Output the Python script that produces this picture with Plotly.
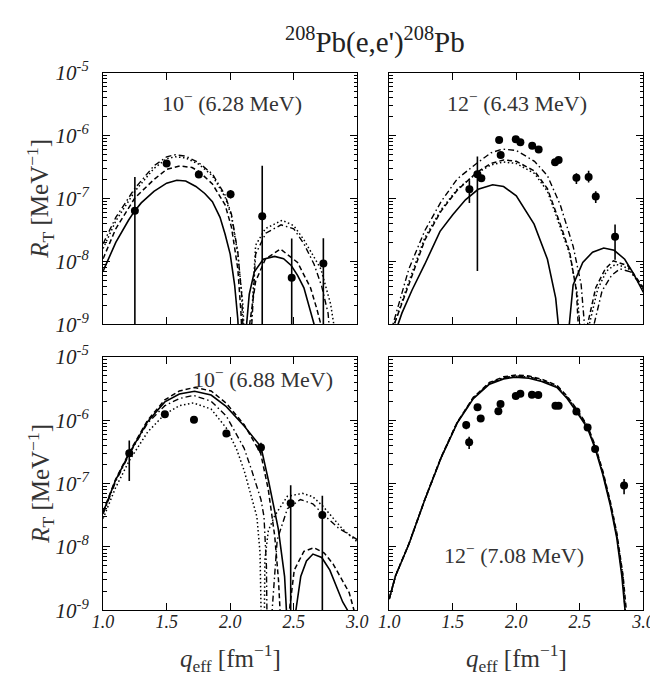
import plotly.graph_objects as go

# ---------------- data ----------------
# Panel 1: 10- (6.28 MeV)
p1_exp_q = [1.25, 1.50, 1.753, 2.003, 2.252, 2.484, 2.733]
p1_exp_r = [6.4e-8, 3.6e-7, 2.4e-7, 1.17e-7, 5.2e-8, 5.5e-9, 9.2e-9]
p1_exp_up = [1.55e-7, 2.0e-8, 1.5e-8, 1.9e-8, 2.8e-7, 1.75e-8, 1.4e-8]
p1_exp_dn = [6.4e-8, 2.0e-8, 1.5e-8, 1.7e-8, 5.2e-8, 5.5e-9, 9.2e-9]

p1_solid_q = [1.00, 1.10, 1.20, 1.25, 1.30, 1.40, 1.50, 1.58, 1.65, 1.73, 1.80, 1.86, 1.92, 1.96, 2.00, 2.035, 2.06, 2.08, 2.095,
              2.11, 2.125, 2.15, 2.19, 2.26, 2.35, 2.42, 2.48, 2.53, 2.58, 2.62, 2.66, 2.70]
p1_solid_r = [7.0e-9, 2.0e-8, 4.5e-8, 6.4e-8, 8.5e-8, 1.3e-7, 1.75e-7, 1.95e-7, 1.9e-7, 1.55e-7, 1.2e-7, 8.9e-8, 5.0e-8, 2.7e-8, 1.3e-8, 4.2e-9, 1.2e-9, 2e-10, 1e-11,
              1e-11, 8e-10, 3.0e-9, 6.8e-9, 1.08e-8, 1.2e-8, 1.1e-8, 8.6e-9, 6.0e-9, 3.8e-9, 2.0e-9, 1.0e-9, 4e-10]
p1_dash_q = [1.00, 1.10, 1.25, 1.40, 1.50, 1.606, 1.70, 1.753, 1.86, 1.96, 2.01, 2.06, 2.085, 2.10,
             2.13, 2.153, 2.20, 2.276, 2.395, 2.53, 2.632, 2.68, 2.713, 2.74]
p1_dash_r = [1.1e-8, 3.3e-8, 1.02e-7, 2.0e-7, 2.9e-7, 3.3e-7, 3.1e-7, 2.7e-7, 1.7e-7, 7.9e-8, 3.5e-8, 7.6e-9, 1.5e-9, 1e-11,
             1e-11, 1.0e-9, 4.8e-9, 1.08e-8, 1.57e-8, 9.6e-9, 3.8e-9, 1.8e-9, 1.0e-9, 3e-10]
p1_dashdot_q = [1.00, 1.10, 1.25, 1.40, 1.50, 1.568, 1.65, 1.753, 1.86, 1.96, 2.01, 2.06, 2.09, 2.11,
                2.14, 2.17, 2.20, 2.28, 2.40, 2.50, 2.58, 2.66, 2.72, 2.77, 2.80]
p1_dashdot_r = [1.9e-8, 5.0e-8, 1.45e-7, 3.3e-7, 4.6e-7, 4.95e-7, 4.7e-7, 3.7e-7, 2.45e-7, 1.13e-7, 5.6e-8, 1.4e-8, 3e-9, 1e-11,
                1e-11, 1.0e-9, 1.3e-8, 2.8e-8, 3.8e-8, 3.3e-8, 1.9e-8, 9e-9, 4e-9, 1.5e-9, 3e-10]
p1_dot_q = [1.00, 1.10, 1.25, 1.40, 1.50, 1.57, 1.65, 1.753, 1.86, 1.96, 2.01, 2.06, 2.10, 2.12,
            2.15, 2.166, 2.20, 2.276, 2.408, 2.50, 2.58, 2.713, 2.79, 2.815, 2.83]
p1_dot_r = [1.6e-8, 4.4e-8, 1.3e-7, 3.0e-7, 4.3e-7, 4.6e-7, 4.4e-7, 3.5e-7, 2.3e-7, 1.05e-7, 5.2e-8, 1.3e-8, 2e-9, 1e-11,
            1e-11, 1.0e-9, 1.8e-8, 3.3e-8, 4.5e-8, 3.7e-8, 2.2e-8, 7.6e-9, 2.1e-9, 1.0e-9, 3e-10]

# Panel 2: 12- (6.43 MeV)
p2_exp_q = [1.631, 1.694, 1.725, 1.865, 1.877, 1.996, 2.032, 2.125, 2.176, 2.305, 2.333, 2.473, 2.569, 2.625, 2.777]
p2_exp_r = [1.4e-7, 2.43e-7, 2.09e-7, 8.5e-7, 4.9e-7, 8.7e-7, 7.8e-7, 6.9e-7, 6.0e-7, 3.75e-7, 4.1e-7, 2.13e-7, 2.19e-7, 1.07e-7, 2.46e-8]
p2_exp_up = [5.5e-8, 2.2e-7, 1.5e-8, 3e-8, 3e-8, 3e-8, 3e-8, 3e-8, 3e-8, 2e-8, 2e-8, 3.8e-8, 5.6e-8, 2.3e-8, 1.4e-8]
p2_exp_dn = [5.5e-8, 2.36e-7, 1.5e-8, 3e-8, 3e-8, 3e-8, 3e-8, 3e-8, 3e-8, 2e-8, 2e-8, 4.3e-8, 3.9e-8, 2.2e-8, 1.4e-8]

p2_solid_q = [1.05, 1.07, 1.10, 1.18, 1.28, 1.40, 1.50, 1.60, 1.70, 1.814, 1.90, 2.00, 2.14, 2.245, 2.31, 2.335, 2.35,
              2.40, 2.417, 2.447, 2.523, 2.60, 2.688, 2.77, 2.853, 2.92, 3.0]
p2_solid_r = [1e-10, 1.0e-9, 1.5e-9, 3.5e-9, 9e-9, 3.0e-8, 5.5e-8, 9.5e-8, 1.4e-7, 1.65e-7, 1.55e-7, 1.1e-7, 3.9e-8, 1.08e-8, 2.6e-9, 8e-10, 1e-11,
              1e-11, 1.0e-9, 4.2e-9, 9.6e-9, 1.4e-8, 1.63e-8, 1.5e-8, 1.08e-8, 6.5e-9, 3.2e-9]
p2_dash_q = [1.02, 1.04, 1.155, 1.281, 1.408, 1.535, 1.687, 1.80, 1.90, 2.00, 2.143, 2.245, 2.346, 2.42, 2.473, 2.50, 2.52,
             2.54, 2.561, 2.625, 2.70, 2.764, 2.878, 3.0]
p2_dash_r = [1e-10, 1.0e-9, 4.3e-9, 2.2e-8, 6.3e-8, 1.35e-7, 2.57e-7, 3.6e-7, 4.1e-7, 3.9e-7, 2.73e-7, 1.43e-7, 3.9e-8, 1.4e-8, 3.4e-9, 5e-10, 1e-11,
             1e-11, 1.0e-9, 3.8e-9, 7.6e-9, 1.02e-8, 8.5e-9, 3.8e-9]
p2_dashdot_q = [1.01, 1.03, 1.155, 1.281, 1.408, 1.535, 1.687, 1.80, 1.89, 2.00, 2.143, 2.245, 2.346, 2.447, 2.51, 2.54, 2.56,
                2.59, 2.612, 2.675, 2.75, 2.815, 2.90, 3.0]
p2_dashdot_r = [1e-10, 1.0e-9, 7.6e-9, 3.1e-8, 8.9e-8, 2.04e-7, 3.6e-7, 5.3e-7, 6.1e-7, 5.8e-7, 3.9e-7, 2.3e-7, 7.9e-8, 1.74e-8, 4.3e-9, 8e-10, 1e-11,
                1e-11, 1.0e-9, 3.4e-9, 6.0e-9, 7.6e-9, 6.8e-9, 3.8e-9]
p2_dot_q = [1.02, 1.04, 1.155, 1.281, 1.408, 1.535, 1.687, 1.80, 1.90, 2.00, 2.143, 2.245, 2.346, 2.42, 2.48, 2.51, 2.53,
            2.55, 2.575, 2.64, 2.71, 2.78, 2.88, 3.0]
p2_dot_r = [1e-10, 1.0e-9, 4.8e-9, 2.4e-8, 6.6e-8, 1.4e-7, 2.5e-7, 3.4e-7, 3.8e-7, 3.6e-7, 2.5e-7, 1.3e-7, 3.5e-8, 1.3e-8, 3e-9, 5e-10, 1e-11,
            1e-11, 1.0e-9, 3.6e-9, 7.0e-9, 9.0e-9, 7.8e-9, 3.6e-9]

# Panel 3: 10- (6.88 MeV)
p3_exp_q = [1.206, 1.486, 1.715, 1.97, 2.242, 2.476, 2.725]
p3_exp_r = [3.0e-7, 1.24e-6, 1.02e-6, 6.2e-7, 3.7e-7, 4.9e-8, 3.2e-8]
p3_exp_up = [1.8e-7, 5e-8, 5e-8, 3e-8, 7e-8, 4.5e-8, 3.2e-8]
p3_exp_dn = [1.9e-7, 5e-8, 5e-8, 3e-8, 7e-8, 4.9e-8, 3.2e-8]

p3_solid_q = [1.00, 1.097, 1.206, 1.35, 1.486, 1.60, 1.72, 1.85, 1.97, 2.11, 2.242, 2.301, 2.378, 2.428, 2.445, 2.46,
              2.49, 2.517, 2.555, 2.60, 2.651, 2.72, 2.784, 2.885, 2.923, 2.95]
p3_solid_r = [3.5e-8, 1.12e-7, 3.0e-7, 9.5e-7, 1.95e-6, 2.6e-6, 2.87e-6, 2.5e-6, 1.64e-6, 8.1e-7, 3.8e-7, 1.12e-7, 1.95e-8, 3.4e-9, 8e-10, 1e-11,
              1e-11, 1.0e-9, 3.4e-9, 6.0e-9, 7.7e-9, 6.8e-9, 4.3e-9, 1.35e-9, 1.0e-9, 3e-10]
p3_dash_q = [1.00, 1.097, 1.206, 1.35, 1.486, 1.60, 1.72, 1.85, 1.97, 2.11, 2.24, 2.30, 2.35, 2.38, 2.40, 2.42,
             2.44, 2.466, 2.504, 2.58, 2.66, 2.74, 2.809, 2.936, 2.974, 3.0]
p3_dash_r = [3.6e-8, 1.15e-7, 3.1e-7, 1.0e-6, 2.1e-6, 2.9e-6, 3.3e-6, 2.9e-6, 1.85e-6, 8.5e-7, 3.0e-7, 8e-8, 1.5e-8, 3e-9, 5e-10, 1e-11,
             1e-11, 1.0e-9, 4.3e-9, 8.5e-9, 9.7e-9, 8.0e-9, 5.4e-9, 1.9e-9, 1.0e-9, 5e-10]
p3_dashdot_q = [1.00, 1.097, 1.206, 1.35, 1.486, 1.60, 1.71, 1.85, 1.97, 2.11, 2.17, 2.242, 2.266, 2.285, 2.30,
                2.31, 2.33, 2.37, 2.45, 2.552, 2.65, 2.729, 2.85, 3.0]
p3_dashdot_r = [3.3e-8, 1.05e-7, 2.9e-7, 9.0e-7, 1.7e-6, 2.2e-6, 2.47e-6, 2.0e-6, 1.16e-6, 3.6e-7, 1.6e-7, 5.6e-8, 3.0e-8, 5e-9, 1e-11,
                1e-11, 1.0e-9, 1.3e-8, 4.0e-8, 5.6e-8, 4.8e-8, 3.3e-8, 2.0e-8, 1.3e-8]
p3_dot_q = [1.00, 1.097, 1.206, 1.35, 1.486, 1.60, 1.71, 1.85, 1.97, 2.05, 2.11, 2.16, 2.21, 2.235, 2.25,
            2.26, 2.273, 2.30, 2.35, 2.45, 2.568, 2.65, 2.729, 2.88, 3.0]
p3_dot_r = [2.8e-8, 8.5e-8, 2.3e-7, 6.5e-7, 1.25e-6, 1.7e-6, 1.88e-6, 1.5e-6, 7.5e-7, 3.5e-7, 1.6e-7, 7e-8, 3.0e-8, 8e-9, 1e-11,
            1e-11, 6.3e-9, 1.8e-8, 3.1e-8, 6.3e-8, 7.0e-8, 6.2e-8, 4.4e-8, 1.95e-8, 1.2e-8]

# Panel 4: 12- (7.08 MeV)
p4_exp_q = [1.606, 1.629, 1.695, 1.72, 1.859, 1.876, 1.996, 2.032, 2.123, 2.173, 2.308, 2.333, 2.473, 2.561, 2.62, 2.848]
p4_exp_r = [8.4e-7, 4.5e-7, 1.6e-6, 1.07e-6, 1.39e-6, 1.8e-6, 2.41e-6, 2.61e-6, 2.52e-6, 2.5e-6, 1.7e-6, 1.7e-6, 1.38e-6, 7.7e-7, 3.5e-7, 9.3e-8]
p4_exp_err = [1.2e-7, 1.0e-7, 8e-8, 8e-8, 8e-8, 8e-8, 1e-7, 1e-7, 1e-7, 1e-7, 8e-8, 8e-8, 8e-8, 5e-8, 3e-8, 2.5e-8]

p4_solid_q = [1.00, 1.05, 1.154, 1.281, 1.408, 1.535, 1.662, 1.789, 1.90, 1.99, 2.10, 2.20, 2.32, 2.40, 2.47, 2.56, 2.62, 2.68, 2.74, 2.79, 2.83, 2.86, 2.88]
p4_solid_r = [1.5e-9, 3.5e-9, 1.09e-8, 5.6e-8, 2.54e-7, 9.0e-7, 2.2e-6, 3.7e-6, 4.5e-6, 4.8e-6, 4.6e-6, 4.1e-6, 3.3e-6, 2.2e-6, 1.4e-6, 7.5e-7, 3.6e-7, 1.4e-7, 4.5e-8, 1.4e-8, 3.5e-9, 8e-10, 1e-10]
p4_dash_q = [1.00, 1.05, 1.154, 1.281, 1.408, 1.535, 1.662, 1.789, 1.90, 2.00, 2.10, 2.20, 2.32, 2.40, 2.47, 2.56, 2.62, 2.68, 2.74, 2.79, 2.84, 2.87, 2.89]
p4_dash_r = [1.5e-9, 3.5e-9, 1.1e-8, 5.7e-8, 2.6e-7, 9.3e-7, 2.3e-6, 3.95e-6, 4.85e-6, 5.2e-6, 5.0e-6, 4.45e-6, 3.55e-6, 2.4e-6, 1.55e-6, 8.2e-7, 4.0e-7, 1.6e-7, 5.2e-8, 1.7e-8, 3.5e-9, 8e-10, 1e-10]
p4_dashdot_q = [1.00, 1.05, 1.154, 1.281, 1.408, 1.535, 1.662, 1.789, 1.90, 2.00, 2.10, 2.20, 2.32, 2.40, 2.47, 2.56, 2.62, 2.68, 2.74, 2.79, 2.84, 2.87, 2.89]
p4_dashdot_r = [1.5e-9, 3.5e-9, 1.1e-8, 5.6e-8, 2.55e-7, 9.2e-7, 2.25e-6, 3.85e-6, 4.7e-6, 5.0e-6, 4.85e-6, 4.3e-6, 3.45e-6, 2.3e-6, 1.5e-6, 7.9e-7, 3.8e-7, 1.5e-7, 4.8e-8, 1.5e-8, 3.0e-9, 6e-10, 1e-10]
p4_dot_q = [1.00, 1.05, 1.154, 1.281, 1.408, 1.535, 1.662, 1.789, 1.90, 2.00, 2.10, 2.20, 2.32, 2.40, 2.47, 2.56, 2.62, 2.68, 2.74, 2.79, 2.84, 2.87, 2.89]
p4_dot_r = [1.5e-9, 3.5e-9, 1.1e-8, 5.6e-8, 2.55e-7, 9.2e-7, 2.25e-6, 3.8e-6, 4.65e-6, 4.95e-6, 4.8e-6, 4.25e-6, 3.4e-6, 2.3e-6, 1.5e-6, 7.8e-7, 3.8e-7, 1.5e-7, 4.9e-8, 1.6e-8, 3.3e-9, 7e-10, 1e-10]

y_tick_vals = [1e-9, 1e-8, 1e-7, 1e-6, 1e-5]
y_tick_text = ["10<sup>-9</sup>", "10<sup>-8</sup>", "10<sup>-7</sup>", "10<sup>-6</sup>", "10<sup>-5</sup>"]
x_tick_vals = [1.0, 1.5, 2.0, 2.5, 3.0]
x_tick_text = ["1.0", "1.5", "2.0", "2.5", "3.0"]
panel_labels = ["10<sup>−</sup> (6.28 MeV)", "12<sup>−</sup> (6.43 MeV)", "10<sup>−</sup> (6.88 MeV)", "12<sup>−</sup> (7.08 MeV)"]

# ---------------- figure ----------------
W, H = 658, 677
SERIF = "Liberation Serif"
fig = go.Figure()

styles = {
    "solid": dict(dash="solid", width=1.6),
    "dash": dict(dash="5px,3px", width=1.5),
    "dashdot": dict(dash="6px,3px,1.5px,3px", width=1.4),
    "dot": dict(dash="1.5px,2.5px", width=1.5),
}

panels = [
    ("", dict(solid=(p1_solid_q, p1_solid_r), dash=(p1_dash_q, p1_dash_r), dashdot=(p1_dashdot_q, p1_dashdot_r), dot=(p1_dot_q, p1_dot_r)),
     (p1_exp_q, p1_exp_r, p1_exp_up, p1_exp_dn)),
    ("2", dict(solid=(p2_solid_q, p2_solid_r), dash=(p2_dash_q, p2_dash_r), dashdot=(p2_dashdot_q, p2_dashdot_r), dot=(p2_dot_q, p2_dot_r)),
     (p2_exp_q, p2_exp_r, p2_exp_up, p2_exp_dn)),
    ("3", dict(solid=(p3_solid_q, p3_solid_r), dash=(p3_dash_q, p3_dash_r), dashdot=(p3_dashdot_q, p3_dashdot_r), dot=(p3_dot_q, p3_dot_r)),
     (p3_exp_q, p3_exp_r, p3_exp_up, p3_exp_dn)),
    ("4", dict(solid=(p4_solid_q, p4_solid_r), dash=(p4_dash_q, p4_dash_r), dashdot=(p4_dashdot_q, p4_dashdot_r), dot=(p4_dot_q, p4_dot_r)),
     (p4_exp_q, p4_exp_r, p4_exp_err, p4_exp_err)),
]

for suf, curves, exp in panels:
    xa, ya = "x" + suf, "y" + suf
    for key in ["dot", "dashdot", "dash", "solid"]:
        q, r = curves[key]
        fig.add_trace(go.Scatter(x=q, y=r, mode="lines", xaxis=xa, yaxis=ya,
                                 line=dict(color="black", **styles[key]), showlegend=False,
                                 hoverinfo="skip"))
    eq, er, eu, ed = exp
    fig.add_trace(go.Scatter(x=eq, y=er, mode="markers", xaxis=xa, yaxis=ya,
                             marker=dict(color="black", size=8),
                             error_y=dict(type="data", array=eu, arrayminus=ed, symmetric=False,
                                          color="black", thickness=1.6, width=0),
                             showlegend=False))

# domains (paper fractions)
xd_left = [87 / W, 350 / W]
xd_right = [383 / W, 646 / W]
yd_top = [1 - 314.3 / H, 1 - 52.7 / H]
yd_bot = [1 - 611.7 / H, 1 - 348.3 / H]

minor_y = []
for e in range(-9, -5):
    for m in range(2, 10):
        minor_y.append(m * 10.0 ** e)

def xaxis_cfg(domain, anchor, labels):
    return dict(domain=domain, anchor=anchor, range=[1.0, 3.0], showgrid=False, zeroline=False,
                showline=True, linecolor="black", linewidth=1.2, mirror="ticks",
                ticks="inside", ticklen=7, tickwidth=1, tickcolor="black",
                tickmode="array", tickvals=x_tick_vals, ticktext=x_tick_text,
                showticklabels=labels, ticklabelstandoff=-5,
                tickfont=dict(family=SERIF, size=18, color="#222222", style="italic"))

def yaxis_cfg(domain, anchor, labels):
    return dict(domain=domain, anchor=anchor, type="log", range=[-9, -5], showgrid=False, zeroline=False,
                showline=True, linecolor="black", linewidth=1.2, mirror="ticks",
                ticks="inside", ticklen=7, tickwidth=1, tickcolor="black",
                tickmode="array", tickvals=y_tick_vals, ticktext=y_tick_text,
                showticklabels=labels, ticklabelstandoff=9,
                minor=dict(ticks="inside", ticklen=3.5, tickwidth=1, tickcolor="black",
                           tickmode="array", tickvals=minor_y, showgrid=False),
                tickfont=dict(family=SERIF, size=21, color="#222222", style="italic"))

fig.update_layout(
    width=W, height=H,
    margin=dict(l=0, r=0, t=0, b=0),
    plot_bgcolor="white", paper_bgcolor="white",
    xaxis=xaxis_cfg(xd_left, "y", False),
    yaxis=yaxis_cfg(yd_top, "x", True),
    xaxis2=xaxis_cfg(xd_right, "y2", False),
    yaxis2=yaxis_cfg(yd_top, "x2", False),
    xaxis3=xaxis_cfg(xd_left, "y3", True),
    yaxis3=yaxis_cfg(yd_bot, "x3", True),
    xaxis4=xaxis_cfg(xd_right, "y4", True),
    yaxis4=yaxis_cfg(yd_bot, "x4", False),
)

ann_font = dict(family=SERIF, size=22, color="#333333")
annotations = [
    dict(text=panel_labels[0], x=220 / W, y=1 - 83 / H),
    dict(text=panel_labels[1], x=515 / W, y=1 - 83 / H),
    dict(text=panel_labels[2], x=252 / W, y=1 - 370 / H),
    dict(text=panel_labels[3], x=512 / W, y=1 - 553 / H),
]
for a in annotations:
    fig.add_annotation(xref="paper", yref="paper", showarrow=False, xanchor="center", yanchor="middle",
                       font=ann_font, **a)

# title
fig.add_annotation(text="<sup>208</sup>Pb(e,e')<sup>208</sup>Pb", xref="paper", yref="paper",
                   x=368 / W, y=1 - 19 / H, showarrow=False, xanchor="center", yanchor="middle",
                   font=dict(family=SERIF, size=29, color="#222222"))

# axis titles
for yc in [183.5, 480]:
    fig.add_annotation(text="<i>R</i><sub>T</sub> [MeV<sup>−1</sup>]", xref="paper", yref="paper",
                       x=22 / W, y=1 - yc / H, showarrow=False, textangle=-90,
                       xanchor="center", yanchor="middle",
                       font=dict(family=SERIF, size=25, color="#333333"))
for xc in [218.5, 514.5]:
    fig.add_annotation(text="<i>q</i><sub>eff</sub> [fm<sup>−1</sup>]", xref="paper", yref="paper",
                       x=xc / W, y=1 - 661 / H, showarrow=False,
                       xanchor="center", yanchor="middle",
                       font=dict(family=SERIF, size=25, color="#333333"))

fig.write_html("out.html")
